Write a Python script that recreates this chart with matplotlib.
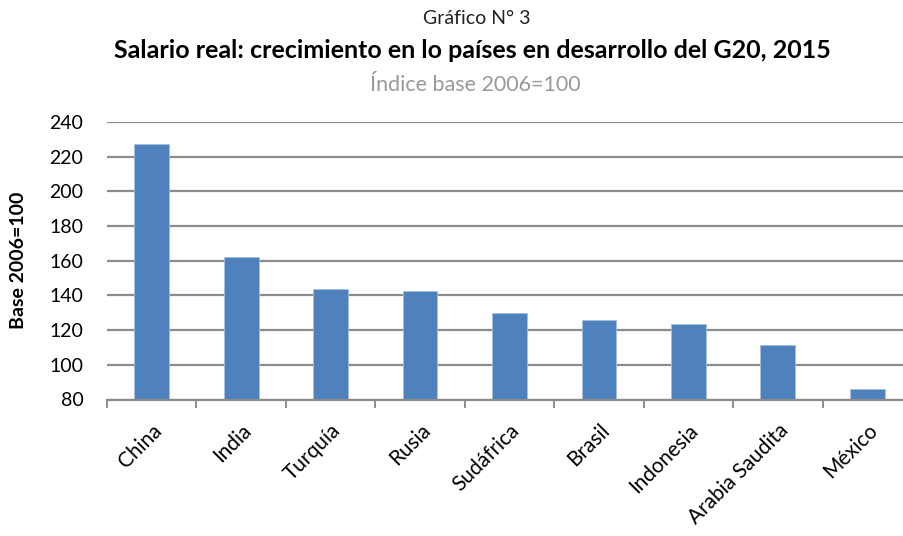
import matplotlib
matplotlib.use("Agg")
import matplotlib.pyplot as plt
import numpy as np

categories = ["China", "India", "Turquía", "Rusia", "Sudáfrica", "Brasil",
              "Indonesia", "Arabia Saudita", "México"]
values = [227.5, 162, 144, 142.7, 129.8, 125.6, 123.4, 111.7, 85.9]
yticks = [80, 100, 120, 140, 160, 180, 200, 220, 240]

plt.rcParams['font.family'] = ['Lato', 'DejaVu Sans']

fig = plt.figure(figsize=(9.04, 5.36), dpi=100)
ax = fig.add_axes([107/904, 136.5/536, 805/904, 277.5/536])

x = np.arange(len(categories))
ax.bar(x, values, width=0.39, color="#4F81BD", edgecolor="#A7C0DE",
       linewidth=0.6, zorder=3)

ax.set_xlim(-0.5, len(categories) - 0.5)
ax.set_ylim(80, 240)
ax.set_yticks(yticks)
ax.set_yticklabels([str(v) for v in yticks], fontsize=14)
ax.yaxis.grid(True, color="#8C8C8C", linewidth=1.6, zorder=0)
ax.tick_params(axis="y", length=0, pad=17)

ax.set_xticks(x)
ax.set_xticklabels(categories, rotation=45, ha="right", va="top",
                   rotation_mode="anchor", fontsize=15)
ax.tick_params(axis="x", which="major", length=0, pad=15)
ax.set_xticks(np.arange(-0.5, len(categories), 1.0), minor=True)
ax.tick_params(axis="x", which="minor", length=6, width=1.4, color="#8C8C8C")

for s in ["left", "right", "top"]:
    ax.spines[s].set_visible(False)
ax.spines["bottom"].set_color("#8C8C8C")
ax.spines["bottom"].set_linewidth(1.6)
ax.spines["bottom"].set_zorder(4)

ax.set_ylabel("Base 2006=100", fontsize=14, fontweight="bold")
ax.yaxis.set_label_coords(-80/805, 0.5)

fig.text(477/904, 1 - 19/536, "Gráfico N° 3", ha="center", va="center",
         fontsize=14, color="#222222")
fig.text(472/904, 1 - 50/536,
         "Salario real: crecimiento en lo países en desarrollo del G20, 2015",
         ha="center", va="center", fontsize=18, fontweight="bold")
fig.text(475/904, 1 - 85/536, "Índice base 2006=100", ha="center", va="center",
         fontsize=15.5, color="#999999")

fig.savefig("out.png", dpi=100)
